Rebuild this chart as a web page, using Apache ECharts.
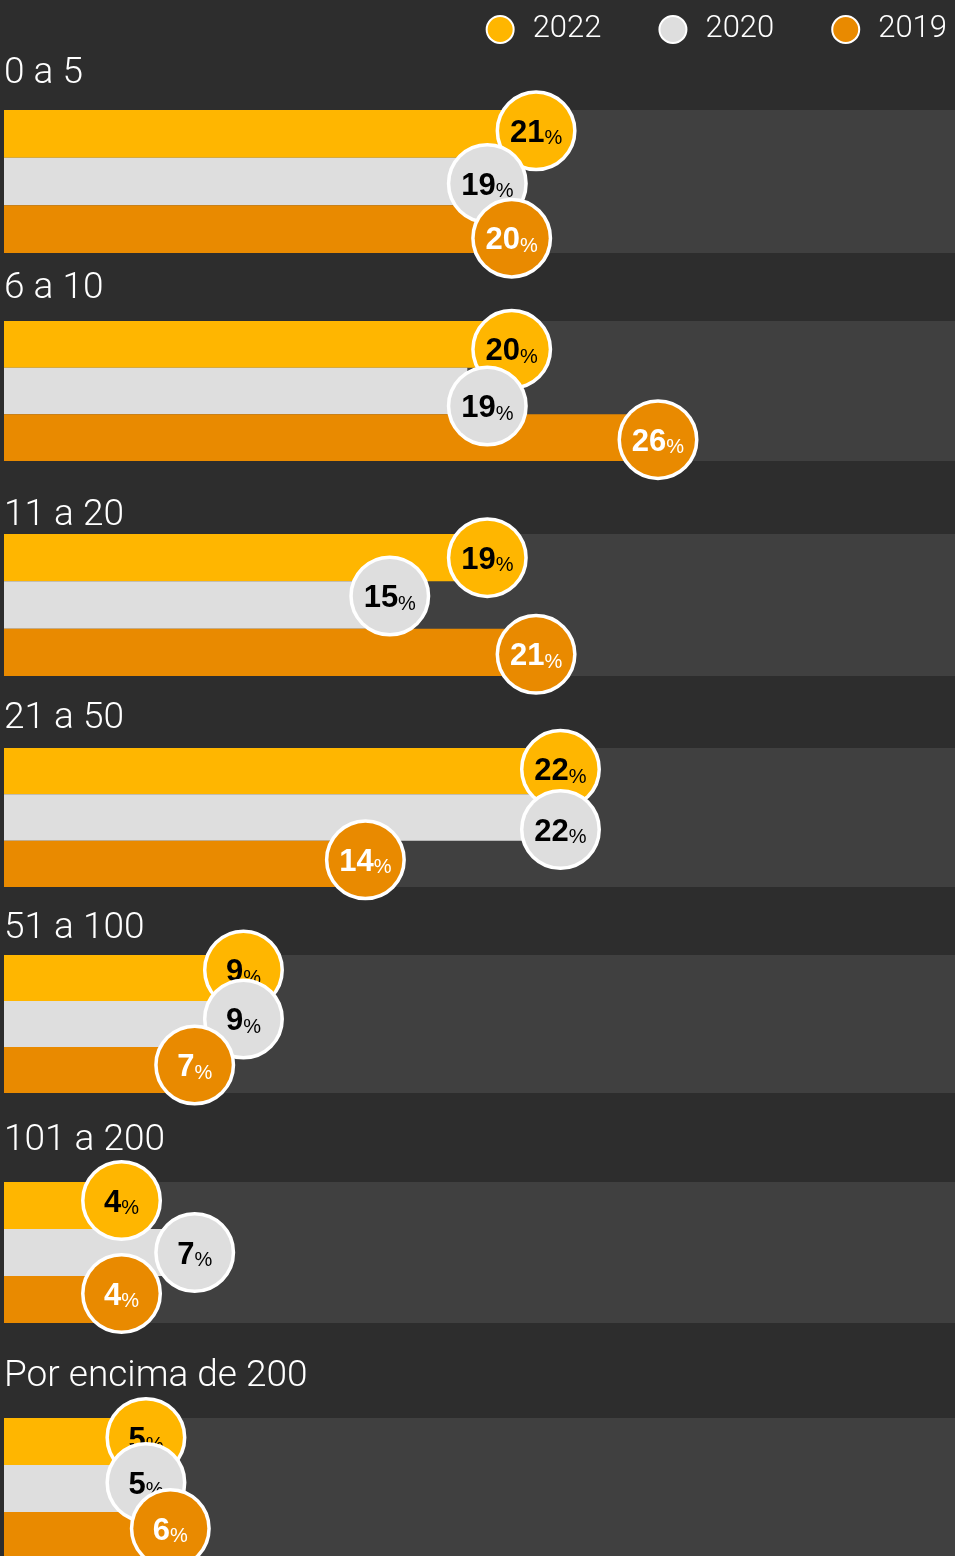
<!DOCTYPE html>
<html>
<head>
<meta charset="utf-8">
<title>Chart</title>
<script src="https://cdn.jsdelivr.net/npm/echarts@6/dist/echarts.min.js"></script>
<style>
    html, body { margin: 0; padding: 0; background: #2d2d2d; }
    #main { width: 955px; height: 1556px; }
</style>
</head>
<body>
<div id="main"></div>
<script>
var groups = ['0 a 5', '6 a 10', '11 a 20', '21 a 50', '51 a 100', '101 a 200', 'Por encima de 200'];
var years = ['2022', '2020', '2019'];
var values2022 = [21, 20, 19, 22, 9, 4, 5];
var values2020 = [19, 19, 15, 22, 9, 7, 5];
var values2019 = [20, 26, 21, 14, 7, 4, 6];

var colors = ['#ffb600', '#dedede', '#e98a00'];
var numColors = ['#000000', '#000000', '#ffffff'];

// layout of each group band (px)
var bandTops = [110, 321, 534, 748, 955, 1182, 1418];
var bandHeights = [143, 140, 142, 139, 138, 141, 141];
var nameGaps = [36, 32, 18, 29, 26, 41, 41];
// vertical nudges of the value bubbles so they do not sit on top of each other
var bubbleShift = [
    [-3, 2, 9],
    [5, 15, 2],
    [0, -9, 2],
    [-2, 12, -4],
    [-8, -5, -5],
    [-5, 0, -6],
    [-4, -6, -7]
];

var myChart = echarts.init(document.getElementById('main'));

var seriesValues = [values2022, values2020, values2019];
var grids = [], xAxes = [], yAxes = [], series = [];

groups.forEach(function(g, i) {
    grids.push({
        left: 4,
        right: 0,
        top: bandTops[i],
        height: bandHeights[i],
        show: true,
        backgroundColor: '#404040',
        borderWidth: 0,
        outerBoundsMode: 'none'
    });
    xAxes.push({
        type: 'value',
        gridIndex: i,
        min: 0,
        max: 39,
        show: false
    });
    yAxes.push({
        type: 'category',
        gridIndex: i,
        data: [g],
        axisLine: { show: false },
        axisTick: { show: false },
        axisLabel: { show: false },
        splitLine: { show: false },
        name: g,
        nameLocation: 'end',
        nameGap: nameGaps[i],
        nameTextStyle: {
            color: '#ffffff',
            fontFamily: 'Roboto',
            fontWeight: 300,
            fontSize: 37,
            align: 'left',
            verticalAlign: 'middle'
        }
    });
    years.forEach(function(y, j) {
        series.push({
            name: y,
            type: 'bar',
            xAxisIndex: i,
            yAxisIndex: i,
            data: [seriesValues[j][i]],
            barGap: '0%',
            barCategoryGap: '0%',
            itemStyle: { color: colors[j] },
            label: {
                show: true,
                position: 'right',
                distance: 0,
                offset: [-17, bubbleShift[i][j]],
                width: 74,
                padding: [15, 0, 19, 0],
                backgroundColor: colors[j],
                borderColor: '#ffffff',
                borderWidth: 3.5,
                borderRadius: 37,
                formatter: function(p) {
                    return '{v|' + p.value + '}{p|%}';
                },
                rich: {
                    v: {
                        fontFamily: 'Liberation Sans',
                        fontWeight: 'bold',
                        fontSize: 31,
                        color: numColors[j],
                        lineHeight: 36,
                        verticalAlign: 'bottom',
                        align: 'center'
                    },
                    p: {
                        fontFamily: 'Liberation Sans',
                        fontSize: 20,
                        color: numColors[j],
                        lineHeight: 40,
                        verticalAlign: 'bottom',
                        align: 'center'
                    }
                }
            }
        });
    });
});

var option = {
    backgroundColor: '#2d2d2d',
    animation: false,
    legend: {
        data: years,
        right: 3,
        top: 9,
        icon: 'circle',
        itemWidth: 27,
        itemHeight: 27,
        itemGap: 57,
        itemStyle: { borderColor: '#ffffff', borderWidth: 2 },
        textStyle: {
            color: '#ffffff',
            fontFamily: 'Roboto',
            fontWeight: 300,
            fontSize: 31,
            padding: [0, 0, 0, 14]
        }
    },
    grid: grids,
    xAxis: xAxes,
    yAxis: yAxes,
    series: series
};

myChart.setOption(option);
</script>
</body>
</html>
